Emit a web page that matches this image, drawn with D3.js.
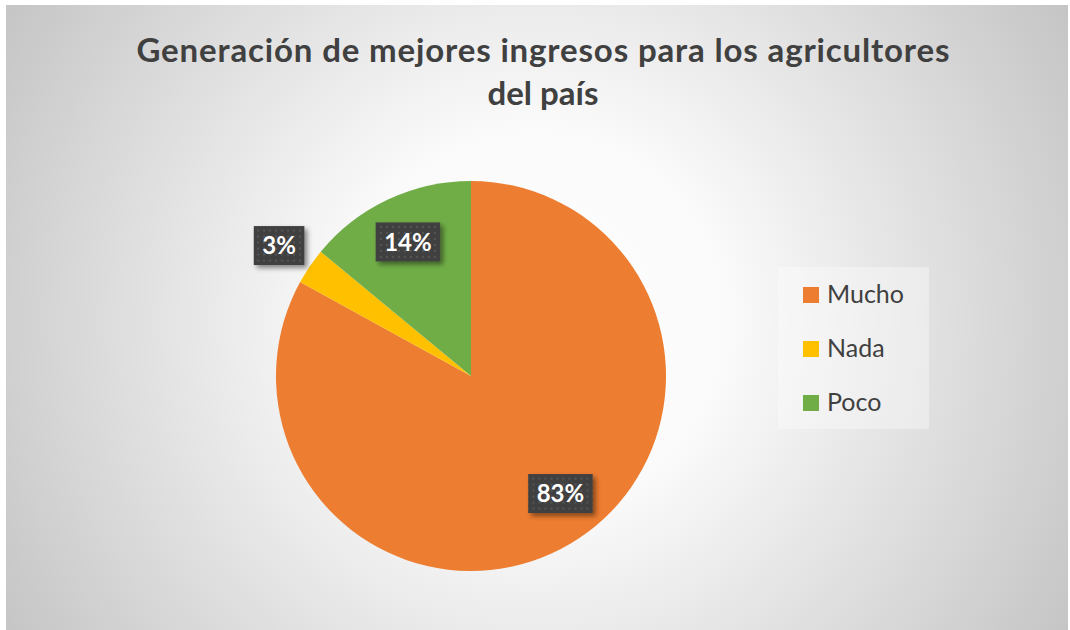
<!DOCTYPE html>
<html>
<head>
<meta charset="utf-8">
<script src="https://cdn.jsdelivr.net/npm/d3@7"></script>
<style>
  html, body { margin: 0; padding: 0; background: #ffffff; }
  svg { display: block; }
</style>
</head>
<body>
<svg id="chart" width="1070" height="630"></svg>
<script>
// ---- data ----
const categories = ["Mucho", "Nada", "Poco"];
const values = [83, 3, 14];
const labels = ["83%", "3%", "14%"];
const colors = ["#ED7D31", "#FFC000", "#70AD47"];
const titleLines = ["Generación de mejores ingresos para los agricultores", "del país"];

// ---- layout ----
const W = 1070, H = 630;
const svg = d3.select("#chart");
const defs = svg.append("defs");

const bg = defs.append("radialGradient").attr("id", "bg")
  .attr("gradientUnits", "userSpaceOnUse")
  .attr("cx", 536).attr("cy", 320).attr("r", 640);
bg.append("stop").attr("offset", "0").attr("stop-color", "#ffffff");
bg.append("stop").attr("offset", "0.3").attr("stop-color", "#fafafa");
bg.append("stop").attr("offset", "1").attr("stop-color", "#c2c2c2");

const pat = defs.append("pattern").attr("id", "dots")
  .attr("patternUnits", "userSpaceOnUse").attr("width", 6).attr("height", 6);
pat.append("rect").attr("width", 6).attr("height", 6).attr("fill", "#404040");
pat.append("rect").attr("x", 2).attr("y", 2).attr("width", 2).attr("height", 2).attr("fill", "#555555");

const sh = defs.append("filter").attr("id", "shadow")
  .attr("x", "-30%").attr("y", "-30%").attr("width", "160%").attr("height", "160%");
sh.append("feDropShadow").attr("dx", 3).attr("dy", 3).attr("stdDeviation", 2.5)
  .attr("flood-color", "#000").attr("flood-opacity", 0.45);

svg.append("rect").attr("x", 6).attr("y", 5).attr("width", 1062).attr("height", 625)
  .attr("fill", "url(#bg)");

// title
const title = svg.append("g");
title.selectAll("text").data(titleLines).join("text")
  .attr("x", 543).attr("y", (d, i) => 62 + i * 43)
  .attr("text-anchor", "middle")
  .attr("font-family", "Lato, 'Open Sans', sans-serif")
  .attr("font-weight", 700).attr("font-size", 33)
  .attr("fill", "#404040")
  .each(function(d, i) {
    if (i === 0) d3.select(this).attr("textLength", 813).attr("lengthAdjust", "spacing");
  })
  .text(d => d);

// pie
const cx = 471, cy = 376, R = 195;
const pie = d3.pie().sort(null).value(d => d);
const arcs = pie(values);
const arc = d3.arc().innerRadius(0).outerRadius(R);

const g = svg.append("g").attr("transform", `translate(${cx},${cy})`);
g.selectAll("path").data(arcs).join("path")
  .attr("d", arc)
  .attr("fill", (d, i) => colors[i]);

// labels
const labelRadius = d => (d.data < 5 ? R * 1.19 : R * 0.76);
const tweak = [[14, -10], [0, 0], [0, 0]];
const lg = g.selectAll("g.lbl").data(arcs).join("g").attr("class", "lbl")
  .attr("transform", (d, i) => {
    const a = (d.startAngle + d.endAngle) / 2;
    const r = labelRadius(d);
    return `translate(${Math.sin(a) * r + tweak[i][0]},${-Math.cos(a) * r + tweak[i][1]})`;
  });
lg.each(function(d, i) {
  const s = d3.select(this);
  const rect = s.append("rect").attr("fill", "url(#dots)").attr("filter", "url(#shadow)");
  const t = s.append("text")
    .attr("text-anchor", "middle").attr("dy", "0.36em")
    .attr("font-family", "Lato, 'Open Sans', sans-serif")
    .attr("font-weight", 700).attr("font-size", 24)
    .attr("fill", "#ffffff").text(labels[i]);
  const bb = t.node().getBBox();
  const w = bb.width + 17, h = 39;
  rect.attr("x", -w / 2).attr("y", -h / 2).attr("width", w).attr("height", h);
});

// legend
const leg = svg.append("g").attr("transform", "translate(778,267)");
leg.append("rect").attr("width", 151).attr("height", 162)
  .attr("fill", "#ffffff").attr("fill-opacity", 0.35);
const items = leg.selectAll("g.item").data(categories).join("g").attr("class", "item")
  .attr("transform", (d, i) => `translate(25,${20 + i * 54})`);
items.append("rect").attr("width", 16).attr("height", 16).attr("fill", (d, i) => colors[i]);
items.append("text").attr("x", 24).attr("y", 16)
  .attr("font-family", "Lato, 'Open Sans', sans-serif")
  .attr("font-size", 25).attr("fill", "#404040")
  .text(d => d);
</script>
</body>
</html>
